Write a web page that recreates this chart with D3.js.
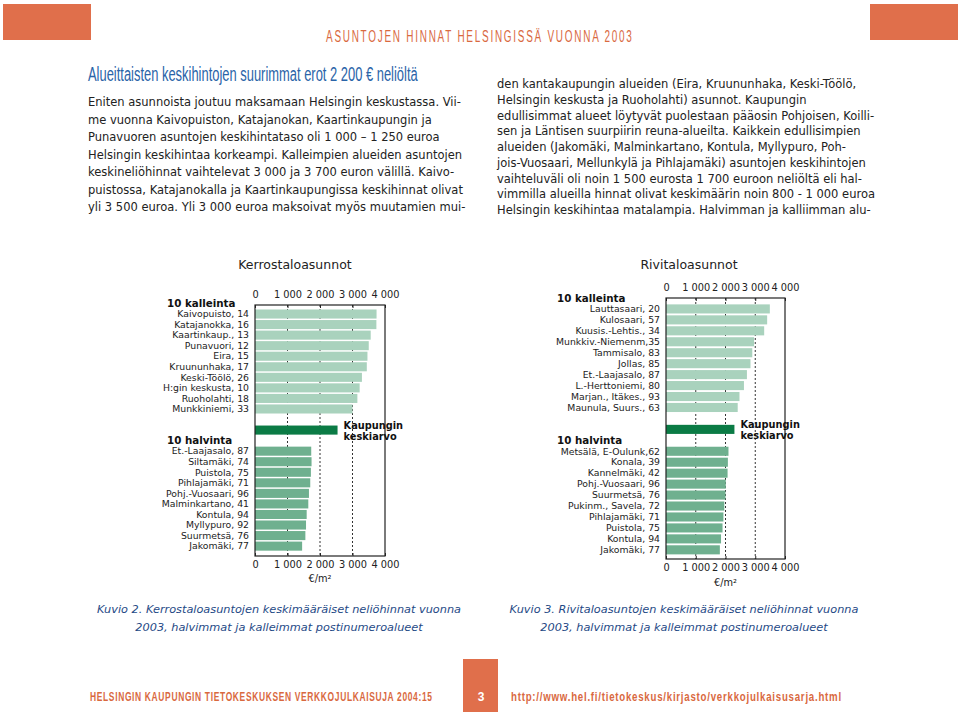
<!DOCTYPE html>
<html><head><meta charset="utf-8">
<script src="https://cdn.jsdelivr.net/npm/d3@7"></script>
<style>
html,body{margin:0;padding:0;background:#fff;}
svg text{font-family:"DejaVu Sans",Verdana,sans-serif;}
</style></head>
<body><svg id="page" width="960" height="715"></svg>
<script>
// ---------- data ----------
const chartTitles = ["Kerrostaloasunnot", "Rivitaloasunnot"];
const tickValues = [0, 1000, 2000, 3000, 4000];
const topHeader = "10 kalleinta";
const bottomHeader = "10 halvinta";
const averageLabel = ["Kaupungin", "keskiarvo"];
const unitLabel = "€/m²";

const kerrosTopAreas = ["Kaivopuisto, 14","Katajanokka, 16","Kaartinkaup., 13","Punavuori, 12","Eira, 15","Kruununhaka, 17","Keski-Töölö, 26","H:gin keskusta, 10","Ruoholahti, 18","Munkkiniemi, 33"];
const kerrosTopValues = [3740, 3735, 3560, 3500, 3460, 3440, 3290, 3220, 3150, 3000];
const kerrosAverage = 2540;
const kerrosBottomAreas = ["Et.-Laajasalo, 87","Siltamäki, 74","Puistola, 75","Pihlajamäki, 71","Pohj.-Vuosaari, 96","Malminkartano, 41","Kontula, 94","Myllypuro, 92","Suurmetsä, 76","Jakomäki, 77"];
const kerrosBottomValues = [1730, 1740, 1720, 1700, 1660, 1640, 1590, 1570, 1550, 1450];

const riviTopAreas = ["Lauttasaari, 20","Kulosaari, 57","Kuusis.-Lehtis., 34","Munkkiv.-Niemenm,35","Tammisalo, 83","Jollas, 85","Et.-Laajasalo, 87","L.-Herttoniemi, 80","Marjan., Itäkes., 93","Maunula, Suurs., 63"];
const riviTopValues = [3490, 3400, 3300, 2960, 2900, 2840, 2720, 2620, 2470, 2410];
const riviAverage = 2300;
const riviBottomAreas = ["Metsälä, E-Oulunk,62","Konala, 39","Kannelmäki, 42","Pohj.-Vuosaari, 96","Suurmetsä, 76","Pukinm., Savela, 72","Pihlajamäki, 71","Puistola, 75","Kontula, 94","Jakomäki, 77"];
const riviBottomValues = [2100, 2080, 2070, 2010, 2000, 1960, 1930, 1900, 1850, 1810];

const headerText = "ASUNTOJEN HINNAT HELSINGISSÄ VUONNA 2003";
const headingText = "Alueittaisten keskihintojen suurimmat erot 2 200 € neliöltä";
const leftColumn = [
 "Eniten asunnoista joutuu maksamaan Helsingin keskustassa. Vii-",
 "me vuonna Kaivopuiston, Katajanokan, Kaartinkaupungin ja",
 "Punavuoren asuntojen keskihintataso oli 1 000 – 1 250 euroa",
 "Helsingin keskihintaa korkeampi. Kalleimpien alueiden asuntojen",
 "keskineliöhinnat vaihtelevat 3 000 ja 3 700 euron välillä. Kaivo-",
 "puistossa, Katajanokalla ja Kaartinkaupungissa keskihinnat olivat",
 "yli 3 500 euroa. Yli 3 000 euroa maksoivat myös muutamien mui-"];
const rightColumn = [
 "den kantakaupungin alueiden (Eira, Kruununhaka, Keski-Töölö,",
 "Helsingin keskusta ja Ruoholahti) asunnot. Kaupungin",
 "edullisimmat alueet löytyvät puolestaan pääosin Pohjoisen, Koilli-",
 "sen ja Läntisen suurpiirin reuna-alueilta. Kaikkein edullisimpien",
 "alueiden (Jakomäki, Malminkartano, Kontula, Myllypuro, Poh-",
 "jois-Vuosaari, Mellunkylä ja Pihlajamäki) asuntojen keskihintojen",
 "vaihteluväli oli noin 1 500 eurosta 1 700 euroon neliöltä eli hal-",
 "vimmilla alueilla hinnat olivat keskimäärin noin 800 - 1 000 euroa",
 "Helsingin keskihintaa matalampia. Halvimman ja kalliimman alu-"];
const captions = [
 ["Kuvio 2. Kerrostaloasuntojen keskimääräiset neliöhinnat vuonna", "2003, halvimmat ja kalleimmat postinumeroalueet"],
 ["Kuvio 3. Rivitaloasuntojen keskimääräiset neliöhinnat vuonna", "2003, halvimmat ja kalleimmat postinumeroalueet"]];
const footerLeft = "HELSINGIN KAUPUNGIN TIETOKESKUKSEN VERKKOJULKAISUJA 2004:15";
const footerRight = "http://www.hel.fi/tietokeskus/kirjasto/verkkojulkaisusarja.html";
const pageNumber = "3";

// ---------- drawing ----------
const svg = d3.select("#page");
const ORANGE = "#e06f4b";
const C_TOP = "#a9d2bd", C_BOT = "#6fb08f", C_AVG = "#0b7b45";
const CONDENSED = "'Liberation Sans Narrow','Liberation Sans',Arial,sans-serif";

function fitText(x, y, width, text, size, weight, color, spacing){
  const t = svg.append("text").attr("x",0).attr("y",0)
    .style("font-family",CONDENSED).style("font-size",size+"px").style("font-weight",weight)
    .style("letter-spacing",(spacing||0)+"px").attr("fill",color).text(text);
  const len = t.node().getComputedTextLength();
  t.attr("transform",`translate(${x},${y}) scale(${width/len},1)`);
  return t;
}

svg.append("rect").attr("x",3).attr("y",4).attr("width",88).attr("height",36).attr("fill",ORANGE);
svg.append("rect").attr("x",870).attr("y",4).attr("width",88).attr("height",36).attr("fill",ORANGE);
svg.append("rect").attr("x",463).attr("y",659).attr("width",35).attr("height",53).attr("fill",ORANGE);

fitText(326, 42, 308, headerText, 17, "normal", "#d9693f", 3);
fitText(88, 81, 330, headingText, 21, "normal", "#2a64a8", 0);

svg.append("g").selectAll("text").data(leftColumn).join("text")
  .attr("x",88).attr("y",(d,i)=>106+i*17.5).style("font-size","11.5px").attr("fill","#222").text(d=>d);
svg.append("g").selectAll("text").data(rightColumn).join("text")
  .attr("x",497).attr("y",(d,i)=>88+i*15.75).style("font-size","11.5px").attr("fill","#222").text(d=>d);

const fmt = d3.formatLocale({decimal:",", thousands:"\u00a0", grouping:[3], currency:["","€"]}).format(",");

function drawChart(cfg){
  const rows = ["hTop", ...cfg.topAreas.map((d,i)=>"t"+i), "blank", "avg", "hBot", ...cfg.botAreas.map((d,i)=>"b"+i)];
  const y = d3.scaleBand().domain(rows).range([cfg.y0, cfg.y0 + rows.length*cfg.pitch]).paddingInner(cfg.pad).paddingOuter(cfg.pad/2);
  const x = d3.scaleLinear().domain([0,4000]).range([cfg.x0, cfg.x1]);
  const g = svg.append("g");
  const yc = r => y(r) + y.bandwidth()/2;

  g.append("text").attr("x",cfg.titleX).attr("y",cfg.titleY).attr("text-anchor","middle")
    .style("font-size","12.5px").attr("fill","#222").text(cfg.title);

  g.selectAll("line.grid").data([1000,2000,3000]).join("line").attr("class","grid")
    .attr("x1",d=>x(d)).attr("x2",d=>x(d)).attr("y1",cfg.frameTop).attr("y2",cfg.frameBot)
    .attr("stroke","#333").attr("stroke-width",1).attr("stroke-dasharray","2,2");

  const topData = cfg.topAreas.map((a,i)=>({a, v:cfg.topValues[i], r:"t"+i}));
  const botData = cfg.botAreas.map((a,i)=>({a, v:cfg.botValues[i], r:"b"+i}));

  g.selectAll("rect.top").data(topData).join("rect").attr("class","top")
    .attr("x",x(0)).attr("y",d=>y(d.r)).attr("width",d=>x(d.v)-x(0)).attr("height",y.bandwidth()).attr("fill",C_TOP);
  g.selectAll("rect.bot").data(botData).join("rect").attr("class","bot")
    .attr("x",x(0)).attr("y",d=>y(d.r)).attr("width",d=>x(d.v)-x(0)).attr("height",y.bandwidth()).attr("fill",C_BOT);
  g.append("rect").attr("x",x(0)).attr("y",y("avg")).attr("width",x(cfg.avg)-x(0)).attr("height",y.bandwidth()).attr("fill",C_AVG);

  g.append("rect").attr("x",x(0)).attr("y",cfg.frameTop).attr("width",x(4000)-x(0)).attr("height",cfg.frameBot-cfg.frameTop)
    .attr("fill","none").attr("stroke","#222").attr("stroke-width",1.2);

  const top = g.append("g").attr("transform",`translate(0,${cfg.frameTop})`)
    .call(d3.axisTop(x).tickValues(tickValues).tickFormat(fmt).tickSize(-3).tickPadding(7));
  const bot = g.append("g").attr("transform",`translate(0,${cfg.frameBot})`)
    .call(d3.axisBottom(x).tickValues(tickValues).tickFormat(fmt).tickSize(-3).tickPadding(5));
  [top,bot].forEach(a=>{
    a.select(".domain").remove();
    a.selectAll("text").style("font-size","9.8px").style("font-family","'DejaVu Sans',Verdana,sans-serif").attr("fill","#222");
    a.selectAll("line").attr("stroke","#222");
  });
  g.append("text").attr("x",(x(0)+x(4000))/2).attr("y",cfg.unitY).attr("text-anchor","middle")
    .style("font-size","9.8px").attr("fill","#222").text(unitLabel);

  const lx = cfg.x0 - 6;
  g.selectAll("text.lab").data(topData.concat(botData)).join("text").attr("class","lab")
    .attr("x",lx).attr("y",d=>yc(d.r)).attr("dy","0.35em").attr("text-anchor","end")
    .style("font-size","9.3px").attr("fill","#222").text(d=>d.a);
  g.append("text").attr("x",cfg.hdrX).attr("y",yc("hTop")).attr("dy","0.35em")
    .style("font-size","10.3px").style("font-weight","bold").attr("fill","#111").text(topHeader);
  g.append("text").attr("x",cfg.hdrX).attr("y",yc("hBot")).attr("dy","0.35em")
    .style("font-size","10.3px").style("font-weight","bold").attr("fill","#111").text(bottomHeader);
  g.selectAll("text.avg").data(averageLabel).join("text").attr("class","avg")
    .attr("x",x(cfg.avg)+6).attr("y",(d,i)=>yc("avg")-5+i*11).attr("dy","0.35em")
    .style("font-size","9.8px").style("font-weight","bold").attr("fill","#111").text(d=>d);

  g.selectAll("text.cap").data(cfg.caption).join("text").attr("class","cap")
    .attr("x",cfg.capX).attr("y",(d,i)=>613+i*18).attr("text-anchor","middle")
    .style("font-size","11.3px").style("font-style","italic").attr("fill","#1f4a86").text(d=>d);
}

drawChart({title:chartTitles[0], titleX:295, titleY:269, x0:255, x1:385, y0:298.2, pitch:10.55, pad:0.14,
  frameTop:305, frameBot:556, unitY:582, hdrX:167,
  topAreas:kerrosTopAreas, topValues:kerrosTopValues, avg:kerrosAverage, botAreas:kerrosBottomAreas, botValues:kerrosBottomValues,
  caption:captions[0], capX:279});
drawChart({title:chartTitles[1], titleX:689, titleY:269, x0:666, x1:785, y0:292.5, pitch:10.95, pad:0.17,
  frameTop:298, frameBot:559, unitY:586, hdrX:557,
  topAreas:riviTopAreas, topValues:riviTopValues, avg:riviAverage, botAreas:riviBottomAreas, botValues:riviBottomValues,
  caption:captions[1], capX:684});

fitText(90, 701, 343, footerLeft, 13, "bold", "#d9693f", 1);
fitText(511, 701, 331, footerRight, 13, "bold", "#d9693f", 1);
svg.append("text").attr("x",481).attr("y",701).attr("text-anchor","middle")
  .style("font-family",CONDENSED).style("font-size","12px").style("font-weight","bold")
  .attr("fill","#fff").text(pageNumber);
</script></body></html>
